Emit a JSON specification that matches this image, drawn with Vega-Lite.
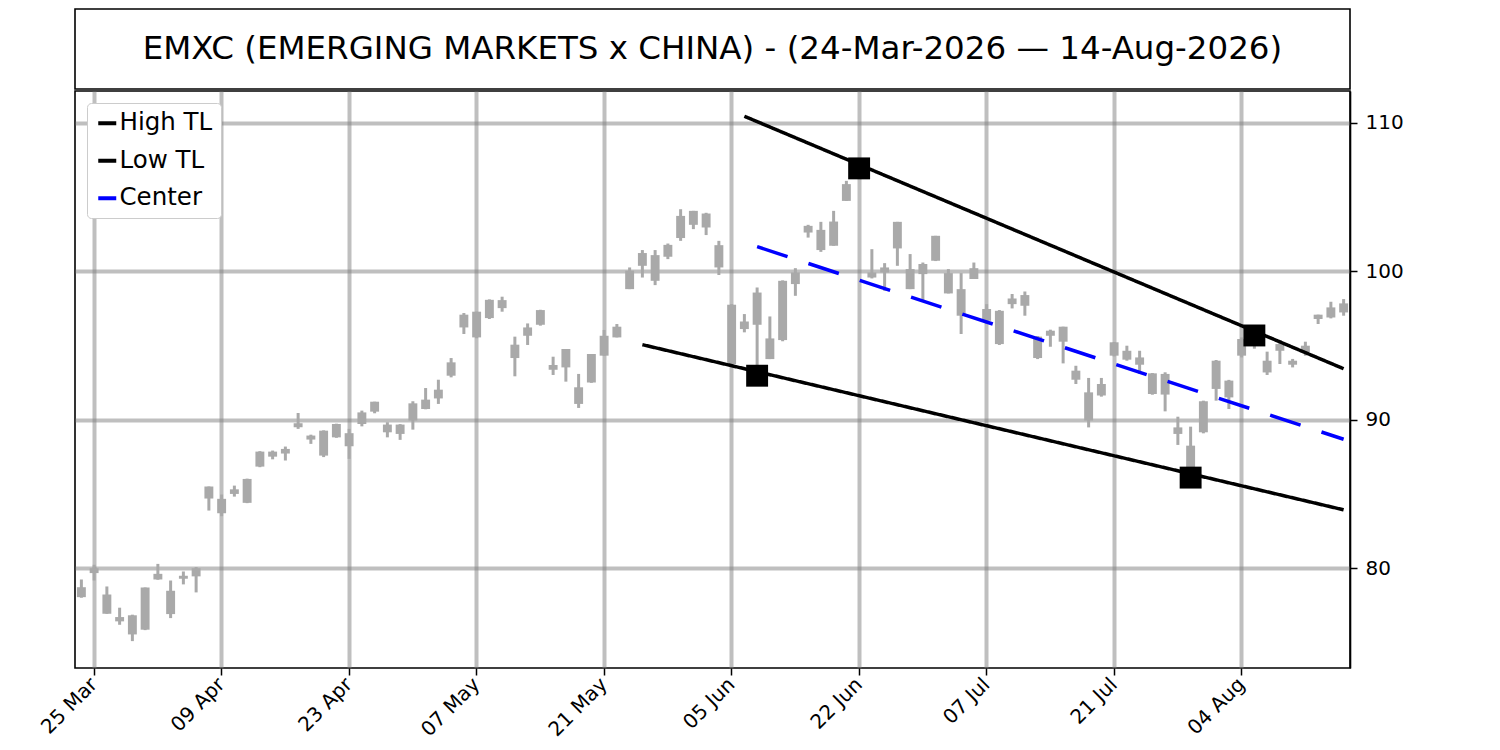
{
  "$schema": "https://vega.github.io/schema/vega-lite/v6.json",
  "description": "EMXC candlesticks with high / low trend lines and centre line",
  "padding": {"left": 36, "top": 8, "right": 5, "bottom": 0},
  "config": {
    "font": "DejaVu Sans",
    "view": {"stroke": "black", "strokeWidth": 1.6},
    "legend": {
      "orient": "top-left",
      "offset": 12,
      "fillColor": "white",
      "strokeColor": "#cccccc",
      "cornerRadius": 4,
      "padding": 8,
      "labelFontSize": 24.5,
      "labelColor": "black",
      "labelOffset": 0,
      "rowPadding": 12.5,
      "symbolType": "stroke",
      "symbolSize": 324,
      "symbolStrokeWidth": 4
    }
  },
  "datasets": {
    "head": [
      {"label": "EMXC (EMERGING MARKETS x CHINA) - (24-Mar-2026 — 14-Aug-2026)"}
    ],
    "ohlc": [
      {"date": "2026-03-24", "open": 78.07, "high": 79.26, "low": 78.03, "close": 78.74},
      {"date": "2026-03-25", "open": 79.69, "high": 80.25, "low": 79.19, "close": 80.02},
      {"date": "2026-03-26", "open": 78.25, "high": 78.79, "low": 76.95, "close": 76.95},
      {"date": "2026-03-27", "open": 76.73, "high": 77.36, "low": 76.21, "close": 76.44},
      {"date": "2026-03-30", "open": 76.85, "high": 76.89, "low": 75.11, "close": 75.56},
      {"date": "2026-03-31", "open": 75.88, "high": 78.72, "low": 75.85, "close": 78.72},
      {"date": "2026-04-01", "open": 79.26, "high": 80.31, "low": 79.24, "close": 79.64},
      {"date": "2026-04-02", "open": 78.5, "high": 79.19, "low": 76.66, "close": 76.93},
      {"date": "2026-04-06", "open": 79.31, "high": 79.8, "low": 78.93, "close": 79.51},
      {"date": "2026-04-07", "open": 79.47, "high": 80.1, "low": 78.39, "close": 80.02},
      {"date": "2026-04-08", "open": 85.52, "high": 85.52, "low": 83.9, "close": 84.71},
      {"date": "2026-04-09", "open": 84.69, "high": 84.98, "low": 83.52, "close": 83.72},
      {"date": "2026-04-10", "open": 85.02, "high": 85.58, "low": 84.84, "close": 85.33},
      {"date": "2026-04-13", "open": 84.42, "high": 86.05, "low": 84.4, "close": 86.03},
      {"date": "2026-04-14", "open": 86.86, "high": 87.9, "low": 86.82, "close": 87.87},
      {"date": "2026-04-15", "open": 87.53, "high": 87.94, "low": 87.35, "close": 87.87},
      {"date": "2026-04-16", "open": 87.74, "high": 88.21, "low": 87.27, "close": 88.05},
      {"date": "2026-04-17", "open": 89.51, "high": 90.47, "low": 89.4, "close": 89.78},
      {"date": "2026-04-20", "open": 88.95, "high": 89.01, "low": 88.39, "close": 88.68},
      {"date": "2026-04-21", "open": 87.6, "high": 89.3, "low": 87.5, "close": 89.28},
      {"date": "2026-04-22", "open": 88.83, "high": 89.75, "low": 88.8, "close": 89.73},
      {"date": "2026-04-23", "open": 89.11, "high": 89.4, "low": 87.38, "close": 88.23},
      {"date": "2026-04-24", "open": 89.73, "high": 90.63, "low": 89.57, "close": 90.51},
      {"date": "2026-04-27", "open": 90.56, "high": 91.23, "low": 90.45, "close": 91.23},
      {"date": "2026-04-28", "open": 89.69, "high": 89.85, "low": 88.83, "close": 89.17},
      {"date": "2026-04-29", "open": 89.06, "high": 89.72, "low": 88.66, "close": 89.69},
      {"date": "2026-04-30", "open": 89.96, "high": 91.26, "low": 89.35, "close": 91.12},
      {"date": "2026-05-01", "open": 90.74, "high": 92.15, "low": 90.72, "close": 91.37},
      {"date": "2026-05-04", "open": 91.45, "high": 92.71, "low": 91.08, "close": 92.04},
      {"date": "2026-05-05", "open": 92.98, "high": 94.17, "low": 92.87, "close": 93.88},
      {"date": "2026-05-06", "open": 96.23, "high": 97.2, "low": 95.79, "close": 97.09},
      {"date": "2026-05-07", "open": 97.29, "high": 97.29, "low": 95.5, "close": 95.56},
      {"date": "2026-05-08", "open": 96.86, "high": 98.12, "low": 96.8, "close": 98.09},
      {"date": "2026-05-11", "open": 97.53, "high": 98.3, "low": 97.29, "close": 98.07},
      {"date": "2026-05-12", "open": 95.07, "high": 95.61, "low": 92.94, "close": 94.17},
      {"date": "2026-05-13", "open": 95.67, "high": 96.5, "low": 95.05, "close": 96.23},
      {"date": "2026-05-14", "open": 96.41, "high": 97.42, "low": 96.35, "close": 97.4},
      {"date": "2026-05-15", "open": 93.7, "high": 94.26, "low": 93.03, "close": 93.38},
      {"date": "2026-05-18", "open": 93.54, "high": 94.78, "low": 92.58, "close": 94.78},
      {"date": "2026-05-19", "open": 92.2, "high": 93.1, "low": 90.81, "close": 91.08},
      {"date": "2026-05-20", "open": 92.53, "high": 94.44, "low": 92.5, "close": 94.44},
      {"date": "2026-05-21", "open": 94.33, "high": 96.06, "low": 94.33, "close": 95.67},
      {"date": "2026-05-22", "open": 95.56, "high": 96.46, "low": 95.56, "close": 96.28},
      {"date": "2026-05-26", "open": 98.81, "high": 100.27, "low": 98.81, "close": 100.05},
      {"date": "2026-05-27", "open": 100.38, "high": 101.44, "low": 99.59, "close": 101.24},
      {"date": "2026-05-28", "open": 101.1, "high": 101.44, "low": 99.08, "close": 99.37},
      {"date": "2026-05-29", "open": 100.99, "high": 101.88, "low": 100.83, "close": 101.79},
      {"date": "2026-06-01", "open": 102.25, "high": 104.19, "low": 102.06, "close": 103.74},
      {"date": "2026-06-02", "open": 104.08, "high": 104.08, "low": 102.85, "close": 103.14},
      {"date": "2026-06-03", "open": 103.9, "high": 103.95, "low": 102.45, "close": 102.96},
      {"date": "2026-06-04", "open": 101.77, "high": 102.06, "low": 99.76, "close": 100.27},
      {"date": "2026-06-05", "open": 97.76, "high": 97.8, "low": 93.7, "close": 93.77},
      {"date": "2026-06-08", "open": 96.12, "high": 97.13, "low": 95.9, "close": 96.63},
      {"date": "2026-06-09", "open": 96.41, "high": 98.92, "low": 92.98, "close": 98.58},
      {"date": "2026-06-10", "open": 95.49, "high": 96.97, "low": 94.1, "close": 94.1},
      {"date": "2026-06-11", "open": 95.38, "high": 99.4, "low": 95.3, "close": 99.37},
      {"date": "2026-06-12", "open": 99.15, "high": 100.22, "low": 98.36, "close": 99.93},
      {"date": "2026-06-15", "open": 102.62, "high": 103.14, "low": 102.28, "close": 103.07},
      {"date": "2026-06-16", "open": 101.44, "high": 103.34, "low": 101.32, "close": 102.8},
      {"date": "2026-06-17", "open": 101.73, "high": 104.08, "low": 101.73, "close": 103.36},
      {"date": "2026-06-18", "open": 104.75, "high": 106.1, "low": 104.75, "close": 105.88},
      {"date": "2026-06-22", "open": 106.4, "high": 106.94, "low": 106.3, "close": 106.7},
      {"date": "2026-06-23", "open": 99.93, "high": 101.5, "low": 99.53, "close": 99.59},
      {"date": "2026-06-24", "open": 99.93, "high": 100.56, "low": 98.7, "close": 100.27},
      {"date": "2026-06-25", "open": 101.55, "high": 103.34, "low": 100.38, "close": 103.34},
      {"date": "2026-06-26", "open": 100.16, "high": 101.17, "low": 98.81, "close": 98.81},
      {"date": "2026-06-29", "open": 99.82, "high": 100.6, "low": 98.03, "close": 100.5},
      {"date": "2026-06-30", "open": 100.72, "high": 102.4, "low": 100.7, "close": 102.4},
      {"date": "2026-07-01", "open": 99.89, "high": 100.16, "low": 98.52, "close": 98.52},
      {"date": "2026-07-02", "open": 98.81, "high": 99.89, "low": 95.79, "close": 97.02},
      {"date": "2026-07-06", "open": 99.49, "high": 100.6, "low": 99.49, "close": 100.22},
      {"date": "2026-07-07", "open": 97.47, "high": 97.8, "low": 96.46, "close": 96.68},
      {"date": "2026-07-08", "open": 97.35, "high": 97.4, "low": 95.05, "close": 95.11},
      {"date": "2026-07-09", "open": 97.8, "high": 98.48, "low": 97.51, "close": 98.18},
      {"date": "2026-07-10", "open": 97.69, "high": 98.65, "low": 97.02, "close": 98.41},
      {"date": "2026-07-13", "open": 95.61, "high": 95.65, "low": 94.1, "close": 94.17},
      {"date": "2026-07-14", "open": 95.67, "high": 96.08, "low": 94.93, "close": 96.01},
      {"date": "2026-07-15", "open": 96.28, "high": 96.28, "low": 93.81, "close": 95.27},
      {"date": "2026-07-16", "open": 93.32, "high": 93.65, "low": 92.42, "close": 92.71},
      {"date": "2026-07-17", "open": 91.86, "high": 92.83, "low": 89.5, "close": 89.96},
      {"date": "2026-07-20", "open": 91.64, "high": 92.83, "low": 91.57, "close": 92.42},
      {"date": "2026-07-21", "open": 94.33, "high": 95.25, "low": 94.28, "close": 95.23},
      {"date": "2026-07-22", "open": 94.66, "high": 95.0, "low": 93.99, "close": 94.06},
      {"date": "2026-07-23", "open": 94.21, "high": 94.66, "low": 93.1, "close": 93.72},
      {"date": "2026-07-24", "open": 93.14, "high": 93.16, "low": 91.7, "close": 91.75},
      {"date": "2026-07-27", "open": 91.71, "high": 93.21, "low": 90.58, "close": 93.1},
      {"date": "2026-07-28", "open": 89.5, "high": 90.22, "low": 88.32, "close": 89.06},
      {"date": "2026-07-29", "open": 88.27, "high": 89.55, "low": 86.12, "close": 86.73},
      {"date": "2026-07-30", "open": 89.17, "high": 91.3, "low": 89.1, "close": 91.26},
      {"date": "2026-07-31", "open": 92.09, "high": 94.04, "low": 91.3, "close": 93.99},
      {"date": "2026-08-03", "open": 92.65, "high": 92.7, "low": 90.74, "close": 91.52},
      {"date": "2026-08-04", "open": 94.33, "high": 95.56, "low": 94.21, "close": 95.45},
      {"date": "2026-08-05", "open": 95.0, "high": 95.69, "low": 94.8, "close": 95.5},
      {"date": "2026-08-06", "open": 93.99, "high": 94.6, "low": 93.03, "close": 93.2},
      {"date": "2026-08-07", "open": 94.66, "high": 95.38, "low": 93.77, "close": 95.11},
      {"date": "2026-08-10", "open": 93.99, "high": 94.11, "low": 93.54, "close": 93.72},
      {"date": "2026-08-11", "open": 94.55, "high": 95.27, "low": 94.33, "close": 95.0},
      {"date": "2026-08-12", "open": 96.8, "high": 97.09, "low": 96.46, "close": 97.09},
      {"date": "2026-08-13", "open": 96.9, "high": 97.96, "low": 96.84, "close": 97.58},
      {"date": "2026-08-14", "open": 97.24, "high": 98.14, "low": 97.02, "close": 97.85}
    ],
    "trend": [
      {"line": "High TL", "date": "2026-06-08", "value": 110.45},
      {"line": "High TL", "date": "2026-08-14", "value": 93.45},
      {"line": "Low TL", "date": "2026-05-27", "value": 95.07},
      {"line": "Low TL", "date": "2026-08-14", "value": 83.95},
      {"line": "Center", "date": "2026-06-09", "value": 101.67},
      {"line": "Center", "date": "2026-08-14", "value": 88.7}
    ],
    "pivots": [
      {"date": "2026-06-09", "value": 92.98},
      {"date": "2026-06-22", "value": 106.94},
      {"date": "2026-07-29", "value": 86.12},
      {"date": "2026-08-05", "value": 95.69}
    ]
  },
  "spacing": 0,
  "resolve": {
    "scale": {"x": "independent", "y": "independent", "color": "independent", "strokeDash": "independent"},
    "legend": {"color": "independent", "strokeDash": "independent"}
  },
  "vconcat": [
    {
      "width": 1275,
      "height": 80,
      "data": {"name": "head"},
      "mark": {"type": "text", "fontSize": 32.5, "color": "black"},
      "encoding": {
        "x": {"field": "label", "type": "nominal", "axis": null},
        "y": {"field": "label", "type": "nominal", "axis": null},
        "text": {"field": "label", "type": "nominal"}
      }
    },
    {
      "width": 1275,
      "height": 577,
      "encoding": {
        "x": {
          "field": "date",
          "type": "ordinal",
          "scale": {"paddingInner": 0, "paddingOuter": 0},
          "axis": {
            "title": null,
            "values": ["2026-03-25", "2026-04-09", "2026-04-23", "2026-05-07", "2026-05-21", "2026-06-05", "2026-06-22", "2026-07-07", "2026-07-21", "2026-08-04"],
            "labelExpr": "utcFormat(toDate(datum.value), '%d %b')",
            "labelAngle": -45,
            "labelAlign": "right",
            "labelBaseline": "middle",
            "labelPadding": 6,
            "labelFontSize": 20,
            "labelColor": "black",
            "bandPosition": 0.5,
            "grid": true,
            "gridColor": "gray",
            "gridOpacity": 0.5,
            "gridWidth": 4,
            "domain": false,
            "tickColor": "black",
            "tickSize": 7,
            "tickWidth": 1.5
          }
        }
      },
      "layer": [
        {
          "data": {"name": "ohlc"},
          "mark": {"type": "rule", "color": "#a9a9a9", "strokeWidth": 3},
          "encoding": {
            "y": {
              "field": "low",
              "type": "quantitative",
              "scale": {"domain": [73.3, 112.15], "nice": false, "zero": false},
              "axis": {
                "orient": "right",
                "title": null,
                "values": [80, 90, 100, 110],
                "labelFontSize": 20,
                "labelColor": "black",
                "labelPadding": 8,
                "grid": true,
                "gridColor": "gray",
                "gridOpacity": 0.5,
                "gridWidth": 4,
                "domainColor": "black",
                "domainWidth": 1.6,
                "tickColor": "black",
                "tickSize": 7,
                "tickWidth": 1.5
              }
            },
            "y2": {"field": "high"}
          }
        },
        {
          "data": {"name": "ohlc"},
          "mark": {"type": "bar", "color": "#a9a9a9", "width": {"band": 0.7}},
          "encoding": {
            "y": {"field": "open", "type": "quantitative"},
            "y2": {"field": "close"}
          }
        },
        {
          "data": {"name": "trend"},
          "mark": {"type": "line", "strokeWidth": 3.5},
          "encoding": {
            "y": {"field": "value", "type": "quantitative"},
            "color": {
              "field": "line",
              "type": "nominal",
              "scale": {"domain": ["High TL", "Low TL", "Center"], "range": ["black", "black", "blue"]},
              "legend": {"title": null}
            },
            "strokeDash": {
              "field": "line",
              "type": "nominal",
              "scale": {"domain": ["High TL", "Low TL", "Center"], "range": [[1, 0], [1, 0], [32, 22]]},
              "legend": {"title": null}
            }
          }
        },
        {
          "data": {"name": "pivots"},
          "mark": {"type": "point", "shape": "square", "filled": true, "color": "black", "opacity": 1, "size": 480},
          "encoding": {
            "y": {"field": "value", "type": "quantitative"}
          }
        }
      ]
    }
  ]
}
